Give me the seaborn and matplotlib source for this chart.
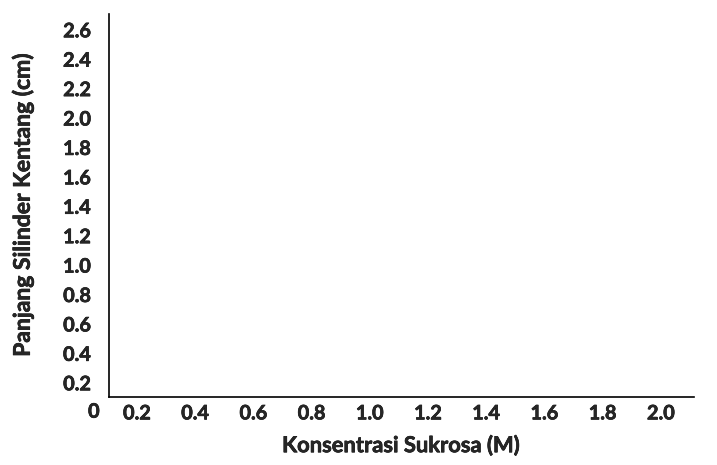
import numpy as np
import pandas as pd
import matplotlib
matplotlib.use("Agg")
import matplotlib.pyplot as plt
import matplotlib.patheffects as pe
import seaborn as sns

# ticks of the (empty) chart
x_ticks = [0.2, 0.4, 0.6, 0.8, 1.0, 1.2, 1.4, 1.6, 1.8, 2.0]
y_ticks = [0.2, 0.4, 0.6, 0.8, 1.0, 1.2, 1.4, 1.6, 1.8, 2.0, 2.2, 2.4, 2.6]
x_label = 'Konsentrasi Sukrosa (M)'
y_label = 'Panjang Silinder Kentang (cm)'

# no measurements filled in yet
konsentrasi = []
panjang = []

sns.set_style('white')
plt.rcParams['font.family'] = ['Lato', 'DejaVu Sans']

fig = plt.figure(figsize=(7.17, 4.65), dpi=100)
ax = fig.add_axes([0.152, 0.146, 0.816, 0.824])
df = pd.DataFrame({'x': konsentrasi, 'y': panjang}, dtype=float)
sns.scatterplot(data=df, x='x', y='y', ax=ax)

# slightly heavier strokes, closer to the original bold face
heavy = [pe.withStroke(linewidth=0.45, foreground='black')]

fs = 14.3
ax.set_xlim(0.104, 2.114)
ax.set_ylim(0.099, 2.704)
ax.set_xticks(x_ticks)
ax.set_xticklabels([f'{v:.1f}' for v in x_ticks], fontsize=fs, fontweight='bold',
                   path_effects=heavy)
ax.set_yticks(y_ticks)
ax.set_yticklabels([f'{v:.1f}' for v in y_ticks], fontsize=fs, fontweight='bold',
                   path_effects=heavy)
ax.tick_params(axis='x', length=0, pad=4.5)
ax.tick_params(axis='y', length=0, pad=13)
ax.text(0.052, 0.0, '0', fontsize=fs, fontweight='bold', ha='center', va='center',
        clip_on=False, path_effects=heavy)

ax.set_xlabel(x_label, fontsize=15.8, fontweight='bold', labelpad=8, path_effects=heavy)
ax.set_ylabel(y_label, fontsize=16.5, fontweight='bold', labelpad=21, path_effects=heavy)

sns.despine(ax=ax)
for s in ['left', 'bottom']:
    ax.spines[s].set_color('black')
    ax.spines[s].set_linewidth(1.2)

fig.savefig('out.png', dpi=100)
